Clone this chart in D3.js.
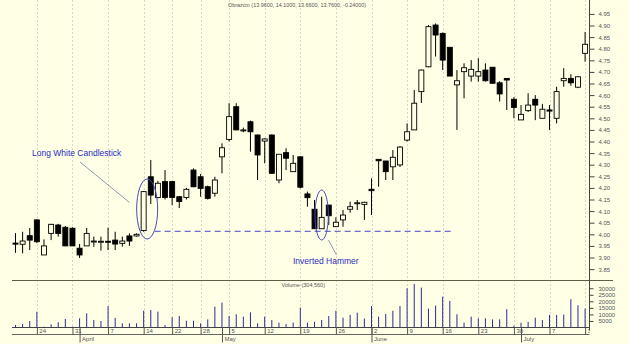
<!DOCTYPE html>
<html><head><meta charset="utf-8">
<script src="https://cdn.jsdelivr.net/npm/d3@7"></script>
<style>body{margin:0;background:#ffffe6;} svg{display:block;font-family:"Liberation Sans",Arial,sans-serif;}</style>
</head><body><svg id="c" width="629" height="344"></svg>
<script>
const open  = [3.962,3.957,3.994,4.062,3.911,4.004,4.040,4.030,4.026,3.940,3.950,3.970,3.970,3.970,3.975,3.961,3.993,3.993,4.016,4.248,4.159,4.227,4.227,4.162,4.159,4.277,4.248,4.205,4.177,4.334,4.409,4.550,4.450,4.485,4.428,4.402,4.428,4.234,4.352,4.270,4.334,4.174,4.108,4.024,4.126,4.033,4.062,4.108,4.134,4.129,4.194,4.323,4.316,4.291,4.299,4.406,4.450,4.615,4.722,4.902,4.866,4.806,4.644,4.701,4.682,4.682,4.708,4.720,4.653,4.672,4.582,4.493,4.533,4.582,4.500,4.536,4.500,4.662,4.672,4.634,4.780];
const high  = [4.005,4.011,4.027,4.065,3.978,4.045,4.045,4.036,4.030,3.958,4.027,3.990,3.990,4.029,4.011,3.990,4.004,4.004,4.186,4.320,4.230,4.277,4.230,4.165,4.200,4.284,4.260,4.210,4.248,4.392,4.565,4.565,4.460,4.490,4.430,4.414,4.430,4.345,4.371,4.342,4.334,4.184,4.148,4.162,4.126,4.073,4.105,4.141,4.148,4.140,4.241,4.323,4.316,4.363,4.380,4.478,4.622,4.710,4.902,4.909,4.870,4.806,4.708,4.737,4.751,4.759,4.737,4.720,4.660,4.672,4.591,4.557,4.608,4.600,4.562,4.557,4.636,4.716,4.690,4.680,4.872];
const low   = [3.920,3.918,3.932,3.962,3.911,3.975,3.990,3.950,3.950,3.898,3.950,3.946,3.930,3.932,3.932,3.947,3.950,3.990,4.011,4.131,4.155,4.150,4.126,4.113,4.150,4.203,4.162,4.150,4.162,4.263,4.400,4.449,4.440,4.356,4.234,4.306,4.260,4.220,4.277,4.270,4.198,4.119,4.024,4.024,4.040,4.033,4.033,4.093,4.105,4.062,4.083,4.205,4.234,4.234,4.290,4.400,4.450,4.566,4.720,4.766,4.708,4.682,4.450,4.586,4.658,4.658,4.658,4.651,4.572,4.536,4.500,4.493,4.527,4.492,4.500,4.450,4.478,4.636,4.640,4.630,4.744];
const close = [3.960,3.971,3.975,3.968,3.950,4.043,4.004,3.950,3.950,3.911,4.004,3.971,3.970,3.968,3.958,3.971,3.971,4.000,4.184,4.169,4.220,4.159,4.159,4.141,4.194,4.205,4.198,4.155,4.234,4.373,4.507,4.450,4.450,4.442,4.342,4.411,4.263,4.345,4.328,4.306,4.203,4.158,4.024,4.073,4.080,4.052,4.083,4.119,4.136,4.138,4.188,4.317,4.270,4.332,4.376,4.442,4.565,4.708,4.895,4.859,4.751,4.682,4.662,4.718,4.711,4.701,4.662,4.651,4.605,4.665,4.547,4.517,4.557,4.557,4.539,4.531,4.615,4.672,4.653,4.679,4.819];
const volume = [1900,2700,5000,12100,600,2400,4000,6500,600,7000,10800,5700,5000,16400,7300,3200,3200,3200,12800,13400,12100,1900,7800,8800,5200,5200,3200,6200,15900,19000,8800,10100,8300,11600,3200,8300,5700,3700,2700,3700,15200,3700,4400,5700,8800,12800,7500,9600,11300,6800,16400,8300,10300,12800,16400,30000,33300,30500,14400,16700,23600,20300,10100,3700,8300,7000,7000,6200,6200,14000,1400,3700,4400,7500,5700,9600,9600,9900,21600,17000,14500];

const weekTickIndex  = [3,8,13,18,22,26,30,35,40,45,50,55,60,65,70,75,80];
const weekTickLabels = ["24","31","7","14","22","28","5","12","19","26","2","9","16","23","30","7","14"];
const monthIndex  = [9,29,50,71];
const monthLabels = ["April","May","June","July"];
const priceTicks  = [3.85,3.90,3.95,4.00,4.05,4.10,4.15,4.20,4.25,4.30,4.35,4.40,4.45,4.50,4.55,4.60,4.65,4.70,4.75,4.80,4.85,4.90,4.95];
const volumeTicks = [5000,10000,15000,20000,25000,30000];
const titleText  = "Obrazcm (13.9600, 14.1000, 13.6600, 13.7600, -0.24000)";
const volumeText = "Volume (304,560)";
const note1 = "Long White Candlestick";
const note2 = "Inverted Hammer";
const supportLevel = 4.013;
const note1Index = 18, note2Index = 43, supportEndIndex = 61;

const W=629,H=344,bg="#ffffe6";
const svg=d3.select("#c");
svg.append("rect").attr("width",W).attr("height",H).attr("fill",bg);
const n=open.length;
const x=d3.scaleLinear().domain([0,n-1]).range([15.5,585.1]);
const y=d3.scaleLinear().domain([3.80,5.00]).range([280.7,2.3]);
const yv=d3.scaleLinear().domain([0,35000]).range([327.5,281.7]);
const axisX=589.5, left=12, base=327.5;

svg.append("defs").append("clipPath").attr("id","clip").append("rect").attr("x",0).attr("y",0).attr("width",axisX).attr("height",H);

// grid
svg.append("g").selectAll("line").data(weekTickIndex).join("line")
 .attr("x1",d=>Math.round(x(d))+0.5).attr("x2",d=>Math.round(x(d))+0.5).attr("y1",0).attr("y2",base)
 .attr("stroke","#d8d8c8").attr("stroke-dasharray","2,2").attr("stroke-width",1);

// title
svg.append("text").attr("x",228).attr("y",7).attr("font-size",5.4).attr("fill","#555").text(titleText);
svg.append("text").attr("x",325).attr("y",287).attr("text-anchor","end").attr("font-size",5.5).attr("fill","#555").text(volumeText);

// panel separator
svg.append("line").attr("x1",left).attr("x2",613).attr("y1",280.5).attr("y2",280.5).attr("stroke","#5e5e44").attr("stroke-width",1);

// axes
const gP=svg.append("g").attr("transform",`translate(${axisX},0)`);
gP.call(d3.axisRight(y).tickValues(d3.range(381,500).map(v=>v/100)).tickSize(2).tickSizeOuter(0).tickFormat(""));
gP.call(d3.axisRight(y).tickValues(priceTicks).tickSize(5).tickSizeOuter(0).tickFormat(d3.format(".2f")));
gP.selectAll("path.domain").remove();
const gV=svg.append("g").attr("transform",`translate(${axisX},0)`);
gV.call(d3.axisRight(yv).tickValues(d3.range(1000,35000,1000)).tickSize(2).tickSizeOuter(0).tickFormat(""));
gV.call(d3.axisRight(yv).tickValues(volumeTicks).tickSize(4).tickSizeOuter(0).tickFormat(d3.format("d")));
gV.selectAll("path.domain").remove();
svg.selectAll(".tick line").attr("stroke","#444");
svg.selectAll(".tick text").attr("font-size",6).attr("fill","#555").attr("x",9).attr("font-family","Liberation Sans, Arial, sans-serif");
svg.append("line").attr("x1",axisX).attr("x2",axisX).attr("y1",0).attr("y2",base+3).attr("stroke","#444");

// bottom axis
svg.append("line").attr("x1",left).attr("x2",axisX).attr("y1",base).attr("y2",base).attr("stroke","#444");
svg.append("line").attr("x1",left).attr("x2",axisX).attr("y1",334.5).attr("y2",334.5).attr("stroke","#666");
const gx=svg.append("g").attr("transform",`translate(0,${base})`).attr("clip-path","url(#clip)");
gx.call(d3.axisBottom(x).tickValues(weekTickIndex).tickSize(7).tickSizeOuter(0).tickFormat((d,i)=>weekTickLabels[i]));
gx.select("path.domain").remove();
gx.selectAll(".tick text").attr("text-anchor","start").attr("x",2).attr("y",1).attr("font-size",6).attr("fill","#555").attr("font-family","Liberation Sans, Arial, sans-serif");
gx.selectAll(".tick line").attr("stroke","#555");
const gm=svg.append("g").attr("transform",`translate(0,${base})`);
gm.call(d3.axisBottom(x).tickValues(monthIndex).tickSize(15).tickSizeOuter(0).tickFormat((d,i)=>monthLabels[i]));
gm.select("path.domain").remove();
gm.selectAll(".tick text").attr("text-anchor","start").attr("x",2).attr("y",9).attr("font-size",6).attr("fill","#555").attr("font-family","Liberation Sans, Arial, sans-serif");
gm.selectAll(".tick line").attr("stroke","#555");

// volume
svg.append("g").attr("clip-path","url(#clip)").selectAll("line").data(volume).join("line")
 .attr("x1",(d,i)=>x(i)).attr("x2",(d,i)=>x(i)).attr("y1",yv(0)).attr("y2",d=>yv(d))
 .attr("stroke","#2a2a9a").attr("stroke-width",1);

// candles
const idx=d3.range(n);
const gc=svg.append("g").attr("clip-path","url(#clip)");
gc.selectAll("line").data(idx).join("line")
 .attr("x1",i=>x(i)).attr("x2",i=>x(i)).attr("y1",i=>y(high[i])).attr("y2",i=>y(low[i]))
 .attr("stroke","#000").attr("stroke-width",1);
const bw=5;
gc.selectAll("rect").data(idx).join("rect")
 .attr("x",i=>x(i)-bw/2).attr("width",bw)
 .attr("y",i=>y(Math.max(open[i],close[i])))
 .attr("height",i=>Math.max(1,Math.abs(y(open[i])-y(close[i]))))
 .attr("fill",i=>close[i]>=open[i]?bg:"#000").attr("stroke","#000").attr("stroke-width",0.9);

// annotations
const blue="#2b2bc4";
svg.append("line").attr("x1",x(note1Index)+11).attr("x2",x(supportEndIndex)+2).attr("y1",y(supportLevel)).attr("y2",y(supportLevel))
 .attr("stroke","#4848cc").attr("stroke-dasharray","6,4").attr("stroke-width",1);
svg.append("ellipse").attr("cx",x(note1Index)+3.5).attr("cy",209).attr("rx",10.5).attr("ry",30).attr("fill","none").attr("stroke","#4a4ab8").attr("stroke-width",1);
svg.append("line").attr("x1",80).attr("y1",162).attr("x2",129.5).attr("y2",202.5).attr("stroke","#7080a8").attr("stroke-width",0.8);
svg.append("text").attr("x",32).attr("y",156).attr("font-size",8.5).attr("fill",blue).text(note1);
svg.append("ellipse").attr("cx",x(note2Index)).attr("cy",215).attr("rx",6.7).attr("ry",25).attr("fill","none").attr("stroke","#4a4ab8").attr("stroke-width",1);
svg.append("line").attr("x1",328.5).attr("y1",240).attr("x2",336.5).attr("y2",255).attr("stroke","#7080a8").attr("stroke-width",0.8);
svg.append("text").attr("x",293).attr("y",264).attr("font-size",8.5).attr("fill",blue).text(note2);
</script></body></html>
